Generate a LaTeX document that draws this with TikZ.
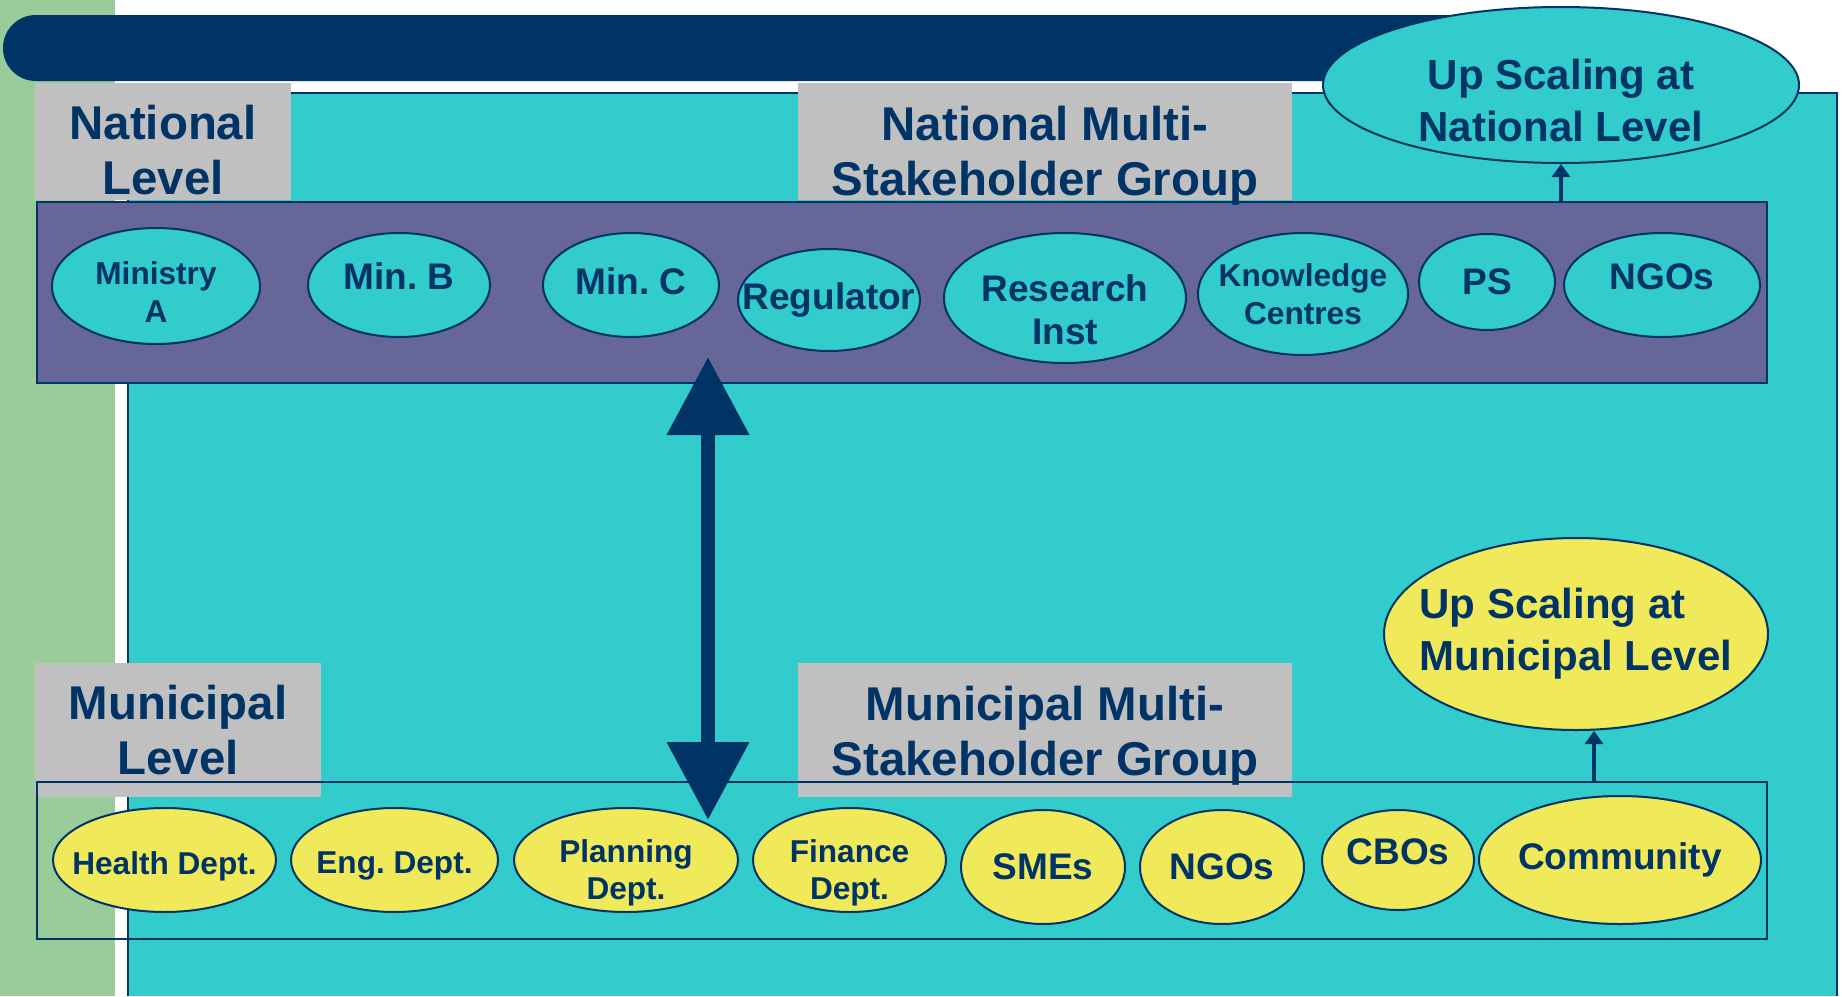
\documentclass[tikz,border=0pt]{standalone}
\usepackage{fontspec}
\setmainfont{Liberation Sans}
\usetikzlibrary{shapes.geometric,arrows.meta}
\frenchspacing

\definecolor{greenstrip}{HTML}{99CC99}
\definecolor{dkblue}{HTML}{003366}
\definecolor{cyanbg}{HTML}{33CCCC}
\definecolor{purplebox}{HTML}{666699}
\definecolor{greylab}{HTML}{C0C0C0}
\definecolor{yellowell}{HTML}{F0EA5A}

\begin{document}
\begin{tikzpicture}[x=0.5pt,y=-0.5pt,
  lvl/.style={fill=greylab, inner sep=0pt, anchor=north west},
  lvltxt/.style={align=center, text=dkblue, inner sep=0pt, font=\bfseries\fontsize{23.7}{27.5}\selectfont},
  natell/.style={ellipse, draw=dkblue, fill=cyanbg, line width=1pt, inner sep=0pt},
  munell/.style={natell, fill=yellowell},
  etxt/.style={align=center, text=dkblue, inner sep=0pt, font=\bfseries\fontsize{18.5}{21.5}\selectfont},
  stxt/.style={etxt, font=\bfseries\fontsize{15.8}{18.8}\selectfont},
  uptxt/.style={etxt, font=\bfseries\fontsize{21}{26}\selectfont},
  grpbox/.style={draw=dkblue, line width=1pt, inner sep=0pt, anchor=north west},
  thinarr/.style={-{Triangle[width=9pt,length=6.5pt]}, line width=2pt, draw=dkblue}
]
  \useasboundingbox (0,0) rectangle (1842,996);
  \fill[white] (0,0) rectangle (1842,996);
  \fill[greenstrip] (0,0) rectangle (115,996);
  \fill[dkblue, rounded corners=16.4pt] (3,15) rectangle (1640,81);

  % background panel
  \fill[cyanbg] (128,93) rectangle (1837,996);
  \draw[dkblue, line width=0.6pt] (128,996) -- (128,93) -- (1837,93) -- (1837,996);

  % national level
  \node[lvl, minimum width=128pt, minimum height=58.5pt] (natlvl) at (35,83) {};
  \node[lvl, minimum width=247pt, minimum height=58.5pt] (natmsg) at (798,83) {};
  \node[grpbox, fill=purplebox, minimum width=865pt, minimum height=90.5pt] (natgrp) at (36,201) {};
  \node[lvltxt] (natlvl-t) at (163,150.5) {National\\Level};
  \node[lvltxt] (natmsg-t) at (1045,155.5) {National Multi-\\Stakeholder Group};

  \node[natell, minimum width=104pt, minimum height=58pt, label={[stxt,yshift=-3pt]center:Ministry\\A}] (mina) at (156,286) {};
  \node[natell, minimum width=91pt, minimum height=52pt, label={[etxt,yshift=4.5pt]center:Min. B}] (minb) at (399,285) {};
  \node[natell, minimum width=88pt, minimum height=52pt, label={[etxt,yshift=2pt]center:Min. C}] (minc) at (631,285) {};
  \node[natell, minimum width=91pt, minimum height=51pt, label={[etxt]center:Regulator}] (reg) at (829,300) {};
  \node[natell, minimum width=121pt, minimum height=65pt, label={[etxt,yshift=-6pt]center:Research\\Inst}] (res) at (1065,298) {};
  \node[natell, minimum width=105pt, minimum height=61pt, label={[stxt]center:Knowledge\\Centres}] (know) at (1303,294) {};
  \node[natell, minimum width=68pt, minimum height=48pt, label={[etxt]center:PS}] (ps) at (1487,282) {};
  \node[natell, minimum width=98pt, minimum height=52pt, label={[etxt,yshift=4pt]center:NGOs}] (ngo) at (1662,285) {};

  \node[natell, minimum width=238pt, minimum height=78pt, label={[uptxt,yshift=-7.5pt]center:Up Scaling at\\National Level}] (upnat) at (1561,85) {};
  \draw[thinarr] (natgrp.north -| upnat.south) -- (upnat.south);

  % municipal level
  \node[lvl, minimum width=143pt, minimum height=67pt] (munlvl) at (35,663) {};
  \node[lvl, minimum width=247pt, minimum height=67pt] (munmsg) at (798,663) {};
  \node[grpbox, minimum width=865pt, minimum height=78.5pt] (mungrp) at (36,781) {};
  \node[lvltxt] (munlvl-t) at (178,730.5) {Municipal\\Level};
  \node[lvltxt] (munmsg-t) at (1045,735.5) {Municipal Multi-\\Stakeholder Group};

  \node[munell, minimum width=111.5pt, minimum height=52pt, label={[stxt,yshift=-3pt]center:Health Dept.}] (health) at (164.5,860) {};
  \node[munell, minimum width=103.5pt, minimum height=52pt, label={[stxt,yshift=-3pt]center:Eng. Dept.}] (eng) at (394.5,860) {};
  \node[munell, minimum width=112pt, minimum height=52pt, label={[stxt,yshift=-6.5pt]center:Planning\\Dept.}] (plan) at (626,860) {};
  \node[munell, minimum width=96.5pt, minimum height=52pt, label={[stxt,yshift=-6.5pt]center:Finance\\Dept.}] (fin) at (849.5,860) {};
  \node[munell, minimum width=82pt, minimum height=57pt, label={[etxt]center:SMEs}] (smes) at (1043,867) {};
  \node[munell, minimum width=82pt, minimum height=57pt, label={[etxt]center:NGOs}] (mngo) at (1222,867) {};
  \node[munell, minimum width=76pt, minimum height=50pt, label={[etxt,yshift=4pt]center:CBOs}] (cbos) at (1398,860) {};
  \node[munell, minimum width=141pt, minimum height=64pt, label={[etxt]center:Community}] (comm) at (1620,860) {};

  \node[munell, minimum width=192pt, minimum height=96pt, label={[uptxt,align=left]center:Up Scaling at\\Municipal Level}] (upmun) at (1576,634) {};
  \draw[thinarr] (mungrp.north -| 1594,0) -- (upmun.south -| 1594,0);

  % link between the two groups
  \coordinate (arrhi) at (708,357);
  \coordinate (arrlo) at (708,820);
  \draw[dkblue, line width=7pt, {Triangle[width=39.5pt,length=39pt]}-{Triangle[width=39.5pt,length=39pt]}] (arrlo) -- (arrhi);
\end{tikzpicture}
\end{document}
